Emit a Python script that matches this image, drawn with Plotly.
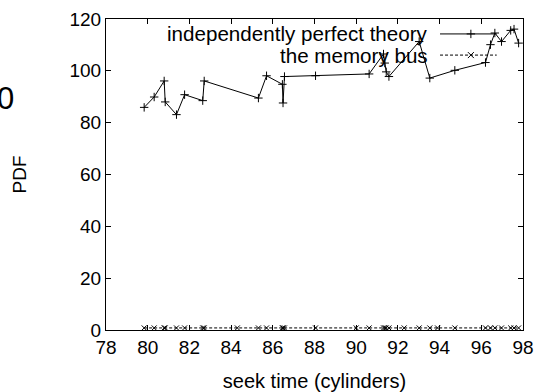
import plotly.graph_objects as go

# Data
seek_time = [79.83, 80.31, 80.79, 80.84, 81.38, 81.77, 82.64, 82.71, 85.31, 85.70,
             86.46, 86.49, 86.56, 88.05, 90.62, 91.31, 91.37, 91.44, 91.57, 93.02,
             93.53, 94.73, 96.20, 96.44, 96.65, 96.97, 97.41, 97.57, 97.79]
theory_pdf = [85.9, 89.9, 96.1, 88.0, 83.1, 90.8, 88.5, 96.1, 89.5, 98.1,
              94.8, 87.6, 97.8, 98.1, 98.8, 106.5, 103.0, 99.6, 97.8, 111.3,
              97.2, 100.2, 103.2, 110.1, 114.6, 111.3, 115.6, 116.1, 110.7]
bus_time = [79.83, 80.31, 80.79, 80.84, 81.38, 81.77, 82.64, 82.71, 84.30, 85.31,
            85.70, 86.46, 86.49, 86.56, 88.05, 90.00, 90.62, 91.31, 91.37, 91.44,
            91.57, 92.30, 93.02, 93.53, 93.90, 94.73, 96.20, 96.44, 96.65, 96.97,
            97.41, 97.57, 97.79]
bus_pdf = [0.8] * len(bus_time)

series_names = ["independently perfect theory", "the memory bus"]
x_ticks = list(range(78, 99, 2))
y_ticks = list(range(0, 121, 20))

FONT = "Liberation Sans, Arial, sans-serif"
FS = 19

fig = go.Figure()
fig.add_trace(go.Scatter(
    x=seek_time, y=theory_pdf, mode="lines+markers", name=series_names[0],
    line=dict(color="black", width=1),
    marker=dict(symbol="cross-thin-open", size=6, color="black",
                line=dict(width=1, color="black")),
    showlegend=False))
fig.add_trace(go.Scatter(
    x=bus_time, y=bus_pdf, mode="lines+markers", name=series_names[1],
    line=dict(color="black", width=1, dash="3px,2px"),
    marker=dict(symbol="x-thin-open", size=5, color="black",
                line=dict(width=1, color="black")),
    showlegend=False))

# Manual gnuplot-style legend (text left, sample right) on an overlay axis
leg_y = [0.952, 0.884]
leg_x0, leg_x1, leg_xm = 0.801, 0.937, 0.875
dashes = ["solid", "3px,2px"]
symbols = ["cross-thin-open", "x-thin-open"]
for i in range(2):
    fig.add_trace(go.Scatter(
        x=[leg_x0, leg_xm, leg_x1], y=[leg_y[i]] * 3, xaxis="x2", yaxis="y2",
        mode="lines", line=dict(color="black", width=1, dash=dashes[i]),
        showlegend=False, hoverinfo="skip"))
    fig.add_trace(go.Scatter(
        x=[leg_xm], y=[leg_y[i]], xaxis="x2", yaxis="y2", mode="markers",
        marker=dict(symbol=symbols[i], size=6, color="black",
                    line=dict(width=1, color="black")),
        showlegend=False, hoverinfo="skip"))
    fig.add_annotation(x=0.777, y=leg_y[i], xref="x2 domain", yref="y2",
                       text=series_names[i], showarrow=False, xanchor="right",
                       yanchor="middle", font=dict(family=FONT, size=20.6, color="black"))

# Stray clipped label on the left edge of the reference
fig.add_annotation(xref="paper", yref="paper", x=-0.215, y=(330.3 - 98.5) / 311.3,
                   text="0", showarrow=False, xanchor="right", yanchor="middle",
                   font=dict(family=FONT, size=31, color="black"))

axis_common = dict(showline=True, linecolor="black", linewidth=1, mirror="allticks",
                   ticks="inside", ticklen=5, tickcolor="black", tickwidth=1,
                   showgrid=False, zeroline=False, automargin=False,
                   tickfont=dict(family=FONT, size=FS, color="black"))

fig.update_layout(
    width=541, height=392,
    margin=dict(l=106, r=18, t=19, b=62),
    paper_bgcolor="white", plot_bgcolor="white",
    xaxis=dict(range=[78, 98], tickvals=x_ticks, **axis_common,
               title=dict(text="seek time (cylinders)", standoff=17,
                          font=dict(family=FONT, size=20, color="black"))),
    yaxis=dict(range=[0, 120], tickvals=y_ticks, **axis_common,
               title=dict(text="PDF", standoff=37,
                          font=dict(family=FONT, size=FS, color="black"))),
    xaxis2=dict(overlaying="x", range=[0, 1], visible=False),
    yaxis2=dict(overlaying="y", range=[0, 1], visible=False),
)

fig.write_html("out.html")
